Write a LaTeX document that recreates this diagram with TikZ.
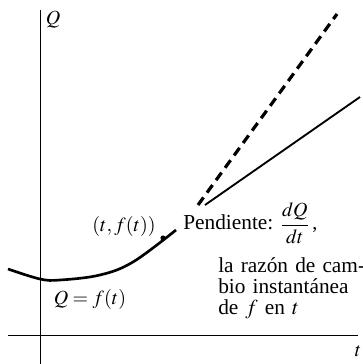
\documentclass[tikz,border=0pt]{standalone}
\usepackage{amsmath}
\usepackage{mathptmx}
\usepackage{fontspec}
\setmainfont{Liberation Serif}
\usetikzlibrary{positioning, calc}

\begin{document}
\begin{tikzpicture}[x=0.75pt, y=0.75pt,
    axis/.style={line width=0.7pt},
    lbl/.style={font=\fontsize{15}{16}\selectfont, inner sep=0pt},
    txt/.style={font=\fontsize{16}{15.75}\selectfont, inner sep=0pt}]
            \useasboundingbox (-40,-29) rectangle (323,335);
            % axes
            \coordinate (O) at (0,0);
            \coordinate (ytop) at (0,325);
            \coordinate (ybot) at (0,-29);
            \coordinate (xl) at (-32,0);
            \coordinate (xr) at (318,0);
            \draw[axis] (ybot) -- (ytop);
            \draw[axis] (xl) -- (xr);
            \node[lbl] (qlab) at (13,315) {$Q$};
            \node[lbl] (tlab) at (318,-16) {$t$};
            % curve Q = f(t)
            \draw[line width=2pt] plot[smooth, tension=0.6] coordinates {(-32,66) (0,56) (20,55) (60,60) (93,73) (136,105)};
            \coordinate (P) at (123,97);
            \fill (P) circle (2.6);
            % continuation and tangent
            \coordinate (d0) at (158,130);
            \coordinate (d1) at (297,321);
            \coordinate (s0) at (165,130);
            \coordinate (s1) at (320,238);
            \draw[line width=2.4pt, dash pattern=on 7pt off 4.5pt] (d0) -- (d1);
            \draw[line width=1.4pt] (s0) -- (s1);
            % labels
            \node[lbl] (pt) at (84,108) {$(t,f(t))$};
            \node[lbl] (eq) at (50,35) {$Q=f(t)$};
            \node[txt, anchor=base west] (pend) at (143,105) {Pendiente: \fontsize{15}{16}\selectfont$\dfrac{dQ}{dt}$\,,};
            \node[txt, text width=99pt, align=left, anchor=north west] (razon) at (178,78) {\makebox[98pt][s]{la razón de cam-}\\\makebox[98pt][s]{bio instantánea}\\de $f$ en $t$\par};
        \end{tikzpicture}
\end{document}
